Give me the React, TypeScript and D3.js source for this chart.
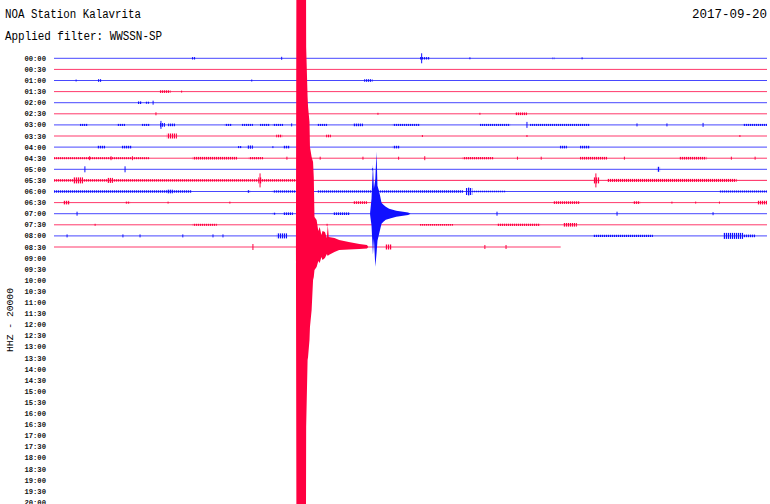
import React from "react";
import * as d3 from "d3";

// ---------- data ----------
const stationTitle = "NOA Station Kalavrita";
const filterTitle = "Applied filter: WWSSN-SP";
const dateTitle = "2017-09-20";
const channelLabel = "HHZ - 20000";

// row labels (every 30 minutes)
const rowLabels: string[] = [
  "00:00","00:30","01:00","01:30","02:00","02:30","03:00","03:30","04:00","04:30",
  "05:00","05:30","06:00","06:30","07:00","07:30","08:00","08:30","09:00","09:30",
  "10:00","10:30","11:00","11:30","12:00","12:30","13:00","13:30","14:00","14:30",
  "15:00","15:30","16:00","16:30","17:00","17:30","18:00","18:30","19:00","19:30","20:00",
];

// minutes recorded on each trace (00:00 .. 08:30)
const traceLength: number[] = [30,30,30,30,30,30,30,30,30,30,30,30,30,30,30,30,30,21.32];

// background noise level per trace (amplitude units)
const traceNoise: number[] = [0.5,0.5,0.5,0.5,0.5,0.5,0.6,0.5,0.5,0.7,0.5,0.8,0.7,0.6,0.5,0.5,0.6,0.5];

// bursts per trace: [startMinute, endMinute, amplitude]
const traceBursts: [number, number, number][][] = [
  [[5.8,5.95,1.2],[15.4,15.82,1.2],[20.98,21.05,1]],
  [],
  [[1.85,2.0,1.3],[13.05,13.4,1.3]],
  [[4.45,4.9,1.3]],
  [[3.53,3.7,1.3],[3.85,4.0,1]],
  [[19.4,19.9,1.3]],
  [[1.09,1.43,1],[2.65,2.99,1],[3.7,4.04,1],[4.46,4.67,1.8],[4.8,5.09,1.3],[7.19,7.49,1],[7.91,8.37,1],[8.67,9.09,1],[9.21,9.64,1],[11.07,11.49,1],[12.58,13.0,1.3],[14.26,15.4,1],[17.92,19.19,1],[20.03,22.55,1],[28.99,30,1]],
  [[4.75,5.17,2.5],[9.35,9.6,1.3],[11.45,11.65,1.3]],
  [[1.81,2.15,1.3],[2.86,3.28,1.3],[7.74,7.91,1],[8.12,8.37,1.6],[9.64,9.93,1.3],[14.26,14.55,1.3],[21.28,21.58,1.3],[22.13,22.55,1.3]],
  [[0,4.0,1],[5.84,7.7,1.3],[8.2,8.8,1.1],[17.2,18.5,1.1],[22.13,23.27,1.3],[26.3,27.45,1.3]],
  [[25.37,25.5,2.5]],
  [[0,10.2,1.2],[0.8,1.22,3],[2.23,2.48,2.5],[8.6,8.75,3],[22.7,22.95,3],[23.27,28.72,1.5]],
  [[0,5.8,1.2],[4.75,5.0,1.8],[8.12,8.25,1.3],[9.21,10.2,1.1],[11.07,15.4,1.1],[15.4,17.21,1.2],[17.33,17.6,3.5],[17.6,19.0,0.8],[28.0,30,1]],
  [[0.38,0.67,1.8],[2.99,3.2,1],[12.58,13.17,1.3],[21.0,22.13,1.3],[24.36,24.66,1.3],[29.6,30,1.8]],
  [[9.21,9.34,1],[9.64,10.05,1.3],[11.74,12.45,1.3]],
  [[5.84,6.85,1],[15.4,16.79,0.8],[18.64,20.45,1.1],[21.42,22.0,1.8]],
  [[9.38,9.81,2.5],[22.68,25.2,1.1],[28.15,29.0,3],[29.0,29.5,1.3]],
  [[13.93,14.22,2.5]],
];

// isolated spikes per trace: [minute, amplitude]
const traceSpikes: [number, number][][] = [
  [[9.58,1.5],[15.47,5],[17.5,1],[22.22,1]],
  [],
  [[0.93,1],[8.32,1]],
  [[5.37,1]],
  [[4.17,2]],
  [[4.29,1.5],[13.63,1],[17.92,1]],
  [[4.5,4],[19.9,3],[27.31,2],[24.53,1.5],[25.79,1.5],[10.0,1.5]],
  [[15.5,1],[19.9,1],[28.86,1]],
  [[9.21,1]],
  [[1.5,2],[2.4,2],[3.3,2],[9.8,1.5],[11.2,1.5],[13.0,1.5],[14.5,1.5],[15.6,2],[19.5,1.5],[20.5,1.5],[24.0,1.5],[28.5,1.5],[29.5,1.5]],
  [[1.3,3],[2.99,3],[13.4,1]],
  [[8.67,7],[22.8,7]],
  [[17.45,4]],
  [[4.8,1],[7.4,1],[26.0,1],[27.0,1],[28.0,1]],
  [[0.97,2],[18.64,2],[23.69,2],[27.73,1.5]],
  [[1.73,1],[11.49,1]],
  [[0.55,1.5],[2.9,1.5],[3.62,1.5],[5.42,1.5],[6.69,1.5],[7.11,1.5]],
  [[8.37,3],[18.13,2],[19.02,2]],
];

// large earthquake on the 08:30 trace: [minute, up, down]
const quakeTrace = 17;
const quakeEnvelope: [number, number, number][] = [
  [10.18,2,2],[10.21,420,420],[10.59,420,420],[10.61,200,180],[10.67,150,113],[10.69,140,110],
  [10.75,125,93],[10.77,100,80],[10.84,90,63],[10.9,85,33],[10.93,70,30],[10.96,30,23],
  [11.05,27,20],[11.12,16,14],[11.18,20,16],[11.25,12,10],[11.3,16,13],[11.4,15,11],
  [11.48,9,7],[11.52,22,9],[11.56,10,8],[11.8,9,5],[12.0,7,3],[12.4,5,2.5],
  [12.85,3,2],[13.17,2,1.5],[13.22,0,0],
];

// regional event on the 07:00 trace: [minute, up, down]
const eventTrace = 14;
const eventEnvelope: [number, number, number][] = [
  [13.3,1,1],[13.36,15,12],[13.42,49,41],[13.46,25,25],[13.52,35,53],
  [13.57,62,40],[13.61,28,27],[13.66,24,22],[13.72,18,16],[13.78,11,10],[13.86,9,8],
  [13.96,7,6],[14.1,5,5],[14.4,3,3],[14.9,1.2,1.2],[15.0,0,0],
];

// ---------- chart ----------
const W = 770;
const H = 504;
const BLUE_LINE = "#4848ff";
const RED_LINE = "#ff3a6c";
const BLUE = "#1010ff";
const RED = "#ff0040";

export default function App() {
  const x = d3.scaleLinear().domain([0, 30]).range([54, 767]);
  const y = d3.scaleLinear().domain([0, rowLabels.length - 1]).range([58.3, 502.3]);
  const amp = d3.scaleLinear().domain([0, 100]).range([0, 100]);

  const lineColor = (i: number) => (i % 2 === 0 ? BLUE_LINE : RED_LINE);
  const markColor = (i: number) => (i % 2 === 0 ? BLUE : RED);
  const hatch = (i: number) => (i % 2 === 0 ? "url(#hatchBlue)" : "url(#hatchRed)");

  const envArea = (row: number) =>
    d3
      .area<[number, number, number]>()
      .x((d) => x(d[0]))
      .y0((d) => y(row) + amp(d[2]))
      .y1((d) => y(row) - amp(d[1]))
      .curve(d3.curveLinear);

  const mono = "'Liberation Mono', 'DejaVu Sans Mono', monospace";

  return (
    <svg width={W} height={H} style={{ position: "absolute", left: 0, top: 0, background: "#fff" }}>
      <defs>
        <pattern id="hatchBlue" width={2} height={4} patternUnits="userSpaceOnUse">
          <rect x={0} y={0} width={1.2} height={4} fill={BLUE} />
        </pattern>
        <pattern id="hatchRed" width={2} height={4} patternUnits="userSpaceOnUse">
          <rect x={0} y={0} width={1.2} height={4} fill={RED} />
        </pattern>
      </defs>
      <rect width={W} height={H} fill="#fff" />
      <text x={5} y={18} fontFamily={mono} fontSize={12} textLength={136} lengthAdjust="spacingAndGlyphs" fill="#000">
        {stationTitle}
      </text>
      <text x={5} y={40} fontFamily={mono} fontSize={12} textLength={157} lengthAdjust="spacingAndGlyphs" fill="#000">
        {filterTitle}
      </text>
      <text x={692} y={18} fontFamily={mono} fontSize={12} textLength={75} lengthAdjust="spacingAndGlyphs" fill="#000">
        {dateTitle}
      </text>
      <text
        transform="translate(13,320) rotate(-90)"
        textAnchor="middle"
        fontFamily={mono}
        fontSize={9}
        textLength={64}
        lengthAdjust="spacingAndGlyphs"
        fill="#000"
      >
        {channelLabel}
      </text>

      {rowLabels.map((lab, i) => (
        <text
          key={lab}
          x={46}
          y={y(i)}
          dy="0.35em"
          textAnchor="end"
          fontFamily={mono}
          fontSize={7.2}
          fontWeight="bold"
          fill="#111"
        >
          {lab}
        </text>
      ))}

      {traceLength.map((len, i) => (
        <g key={"t" + i}>
          <rect
            x={x(0)}
            y={y(i) - Math.max(0.5, 0.7 * amp(traceNoise[i]))}
            width={x(len) - x(0)}
            height={Math.max(1, 1.4 * amp(traceNoise[i]))}
            fill={lineColor(i)}
          />
          {traceBursts[i].map((b, j) => (
            <rect
              key={"b" + j}
              x={x(b[0])}
              y={y(i) - amp(b[2])}
              width={Math.max(1, x(b[1]) - x(b[0]))}
              height={2 * amp(b[2])}
              fill={hatch(i)}
            />
          ))}
          {traceSpikes[i].map((s, j) => (
            <line
              key={"s" + j}
              x1={x(s[0])}
              x2={x(s[0])}
              y1={y(i) - amp(s[1])}
              y2={y(i) + amp(s[1])}
              stroke={markColor(i)}
              strokeWidth={1}
            />
          ))}
        </g>
      ))}

      <path d={envArea(quakeTrace)(quakeEnvelope) || ""} fill={RED} />
      <path d={envArea(eventTrace)(eventEnvelope) || ""} fill={BLUE} />
    </svg>
  );
}
